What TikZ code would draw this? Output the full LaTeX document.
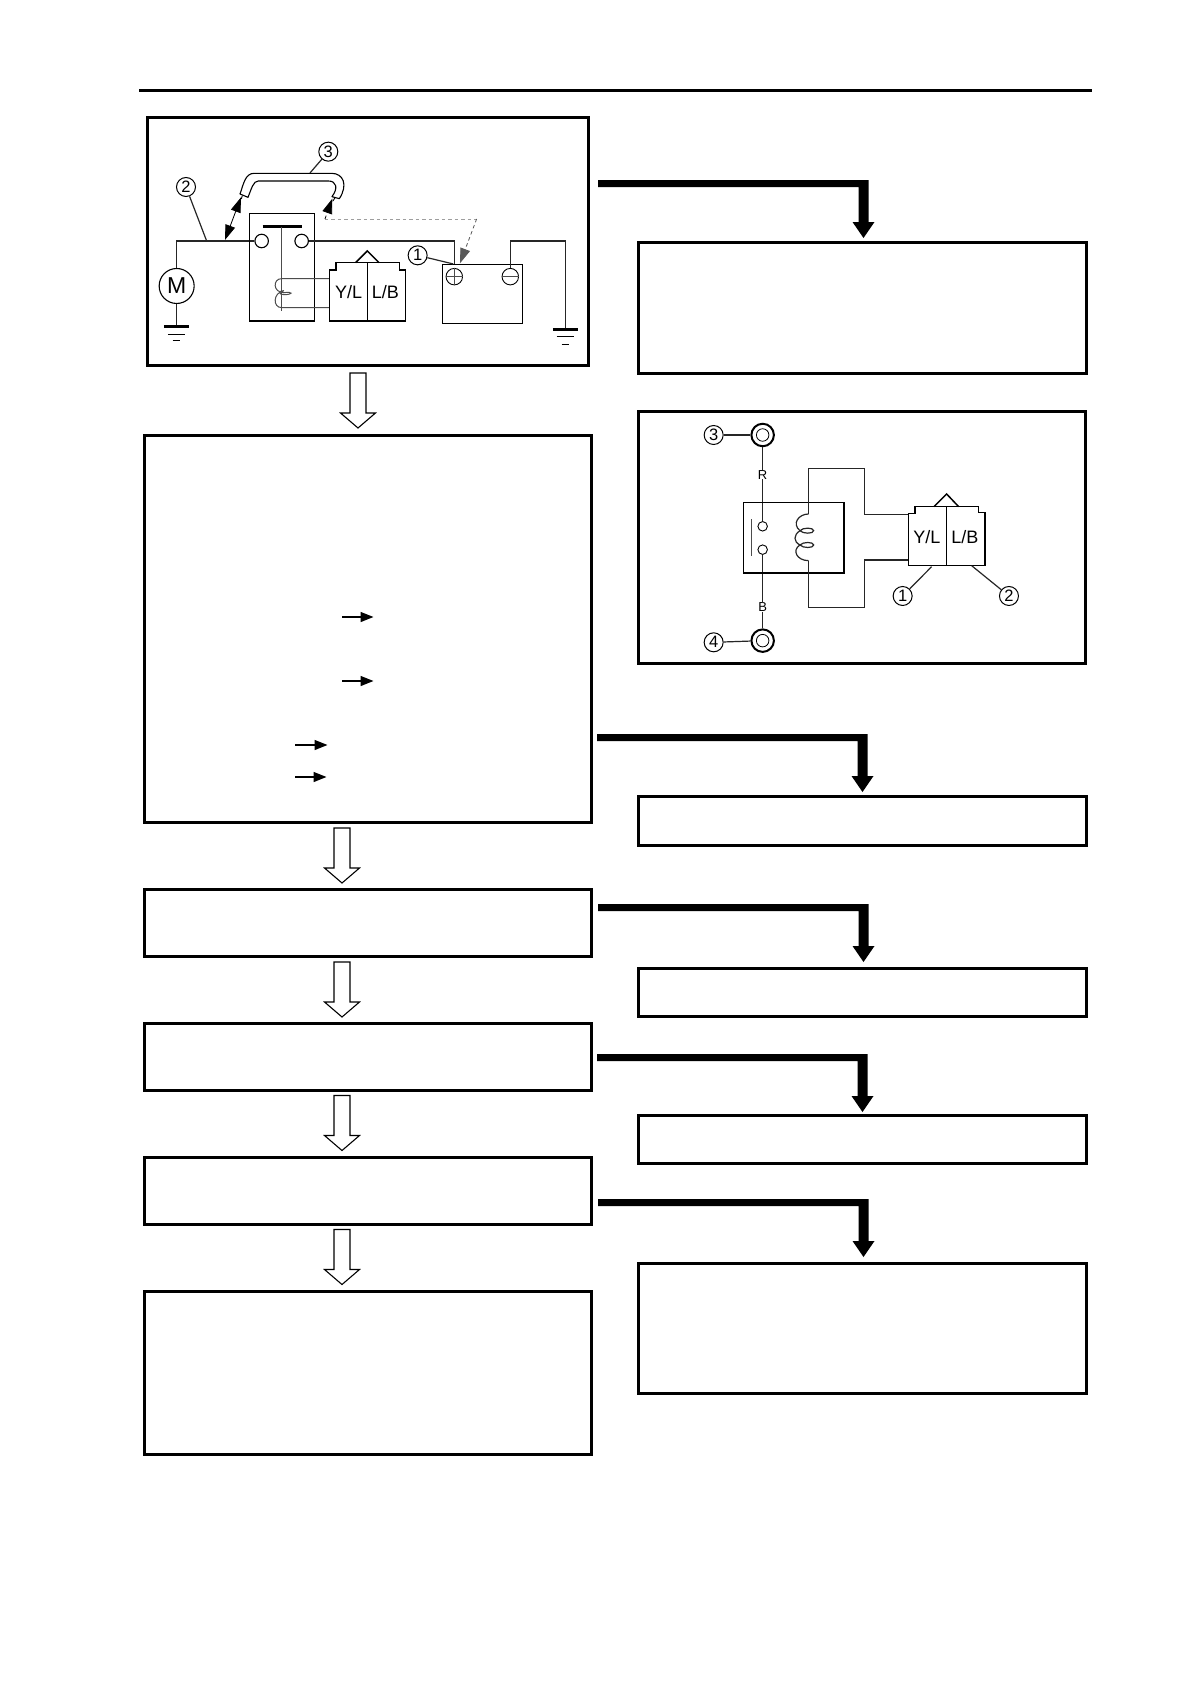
\documentclass[tikz,border=0pt]{standalone}
\usepackage{fontspec}
\setmainfont{Liberation Sans}
\usetikzlibrary{arrows.meta}
\tikzset{
  flowbox/.style={draw=black,line width=3pt,inner sep=0pt,outer sep=0pt,fill=white},
  hollowhead/.style={draw=black,line width=1.1pt,fill=white,line join=miter},
  elbowhead/.style={fill=black,draw=none},
  wire/.style={draw=black!85,line width=1.2pt},
  thinwire/.style={draw=black!70,line width=1pt},
  partline/.style={draw=black,line width=1.5pt},
  numcirc/.style={circle,draw=black,line width=1pt,minimum size=19pt,inner sep=0pt,font=\fontsize{16.5}{16.5}\selectfont},
  pintext/.style={inner sep=0pt,font=\fontsize{18}{18}\selectfont},
  wirelabel/.style={inner sep=0pt,font=\fontsize{13}{13}\selectfont},
  smallarrow/.style={draw=black,line width=1.4pt,-{Triangle[length=13pt,width=10pt]}},
  dashlead/.style={draw=black!38,line width=.8pt,dash pattern=on 3.5pt off 3pt},
  grounding/.style={draw=black,line width=.9pt}
}
\newcommand{\flowbox}[5]{\node[flowbox,minimum width={(#4-#2)*1pt},minimum height={(#5-#3)*1pt}] (#1) at ({(#2+#4)/2},{(#3+#5)/2}) {};}
\newcommand{\hollowdown}[3]{\coordinate (#1) at (#2,#3);
  \draw[hollowhead] (#1) ++(-8,0) -- ++(16,0) -- ++(0,40) -- ++(9.5,0) -- ++(-17.5,15) -- ++(-17.5,-15) -- ++(9.5,0) -- cycle;}
\newcommand{\elbowarrow}[3]{\coordinate (#1) at (#2,#3);
  \fill[elbowhead] (#1) -- ++(270.5,0) -- ++(0,42) -- ++(6,0) -- ++(-11,16) -- ++(-11,-16) -- ++(6,0) -- ++(0,-35) -- ++(-260.5,0) -- cycle;}
\begin{document}
\begin{tikzpicture}[x=1pt,y=-1pt]
\useasboundingbox (0,0) rectangle (1190,1684);
\fill[white] (0,0) rectangle (1190,1684);
% header rule
\coordinate (ruleL) at (139,90.5);
\coordinate (ruleR) at (1092,90.5);
\draw[line width=3pt] (ruleL) -- (ruleR);
% left column boxes
\flowbox{bA}{147.5}{117.5}{588}{365.5}
\flowbox{bB}{144.5}{435.5}{591.5}{822.5}
\flowbox{bC}{144.5}{889.5}{591.5}{956}
\flowbox{bD}{144.5}{1023}{591.5}{1090.5}
\flowbox{bE}{144.5}{1157}{591.5}{1224.5}
\flowbox{bF}{144.5}{1291.5}{591.5}{1454}
% right column boxes
\flowbox{rA}{638}{242.5}{1086.5}{373.5}
\flowbox{rB}{638.5}{411}{1085}{663}
\flowbox{rC}{638}{796.5}{1086.5}{845}
\flowbox{rD}{638}{968}{1086.5}{1016}
\flowbox{rE}{638}{1115.5}{1086.5}{1163}
\flowbox{rF}{638}{1263}{1086.5}{1393.5}
% hollow down arrows
\hollowdown{hA}{358}{373}
\hollowdown{hB}{342}{828}
\hollowdown{hC}{342}{962}
\hollowdown{hD}{342}{1095.5}
\hollowdown{hE}{342}{1229.5}
% black elbow arrows
\elbowarrow{eA}{598}{180}
\elbowarrow{eB}{597}{734}
\elbowarrow{eC}{598}{904}
\elbowarrow{eD}{597}{1054}
\elbowarrow{eE}{598}{1199}
% small arrows in the large box
\foreach \nm/\xa/\xb/\yy in {sA/342/373.5/617,sB/342/373.5/681,sC/295/327.5/745,sD/295/326.5/777}{
  \coordinate (\nm a) at (\xa,\yy);
  \coordinate (\nm b) at (\xb,\yy);
  \draw[smallarrow] (\nm a) -- (\nm b);
}
% ---------- circuit diagram in the first box
\begin{scope}[shift={(130,100)},x=.3333pt,y=-.3333pt]
  % motor
  \node[circle,draw=black,line width=1.1pt,minimum size=35pt,inner sep=0pt,font=\fontsize{23}{23}\selectfont] (motor) at (140,558) {M};
  \coordinate (mTop) at (140,423);
  \node[circle,draw=black,line width=1.1pt,minimum size=13.5pt,inner sep=0pt] (cL) at (395,423) {};
  \node[circle,draw=black,line width=1.1pt,minimum size=13.5pt,inner sep=0pt] (cR) at (515,423) {};
  \draw[wire] (motor) -- (mTop) -- (cL);
  % motor ground
  \coordinate (gA) at (140,680);
  \draw[wire] (motor) -- (gA);
  \draw[line width=3pt] (102,680) -- (176,680);
  \draw[grounding] (114,703) -- (166,703);
  \draw[grounding] (128,722) -- (151,722);
  % relay box
  \draw[partline] (358,340) rectangle (554,663);
  \draw[line width=3pt] (398,380) -- (515,380);
  \draw[thinwire] (455,380) -- (455,632);
  \draw[thinwire] (598,536) -- (455,536) .. controls (428,536) and (428,578) .. (462,578) .. controls (490,574) and (490,584) .. (462,584) .. controls (445,584) and (445,572) .. (462,572) .. controls (428,578) and (428,623) .. (455,623) -- (598,623);
  % connector
  \draw[partline,line join=miter] (598,663) -- (598,510) -- (618,510) -- (618,488) -- (808,488) -- (808,510) -- (827,510) -- (827,663) -- cycle;
  \draw[partline] (712,488) -- (712,663);
  \draw[partline] (677,488) -- (712,453) -- (747,488);
  \node[pintext] (yl) at (656,577) {Y/L};
  \node[pintext] (lb) at (766,577) {L/B};
  % battery
  \draw[partline] (937,493) rectangle (1177,671);
  \node[circle,draw=black,line width=.9pt,minimum size=16.5pt,inner sep=0pt] (bp) at (973,530) {};
  \node[circle,draw=black,line width=.9pt,minimum size=16.5pt,inner sep=0pt] (bm) at (1141,530) {};
  \draw[thinwire] (bp.west) -- (bp.east);
  \draw[thinwire] (bp.north) -- (bp.south);
  \draw[thinwire] (bm.west) -- (bm.east);
  \coordinate (cRe) at (973,423);
  \coordinate (bTop) at (973,493);
  \draw[wire] (cR) -- (cRe) -- (bTop);
  \coordinate (mTopA) at (1141,423);
  \coordinate (mTopB) at (1306,423);
  \coordinate (gB) at (1306,688);
  \draw[wire] (bm) -- (mTopA) -- (mTopB) -- (gB);
  \draw[line width=3pt] (1269,688) -- (1343,688);
  \draw[grounding] (1280,710) -- (1333,710);
  \draw[grounding] (1295,732) -- (1318,732);
  % labels
  \node[numcirc] (nA) at (863,466) {1};
  \node[numcirc] (nB) at (168,261) {2};
  \node[numcirc] (nC) at (595,155) {3};
  \coordinate (lA) at (970,492);
  \coordinate (lB) at (230,423);
  \coordinate (lC) at (540,219);
  \draw[wire] (nA) -- (lA);
  \draw[wire] (nB) -- (lB);
  \draw[wire] (nC) -- (lC);
  % jumper lead
  \draw[draw=black,line width=1.1pt,line join=round] (330,282) .. controls (340,255) and (345,220) .. (372,220) -- (605,220) .. controls (640,220) and (655,255) .. (628,296) -- (606,290) .. controls (625,265) and (620,243) .. (595,243) -- (385,243) .. controls (370,243) and (365,265) .. (354,292) -- cycle;
  \draw[draw=black,line width=.9pt] (337,287) -- (334,297);
  \draw[draw=black,line width=.9pt] (615,293) -- (609,303);
  % test-lead arrows
  \coordinate (jA) at (333,292);
  \coordinate (jB) at (285,420);
  \draw[draw=black,line width=.8pt,{Triangle[length=15pt,width=10pt]}-{Triangle[length=15pt,width=10pt]}] (jB) -- (jA);
  \coordinate (kA) at (607,296);
  \coordinate (kB) at (585,357);
  \coordinate (kC) at (1040,357);
  \coordinate (kD) at (990,490);
  \draw[dashlead] (kB) -- (kC);
  \draw[draw=black!65,line width=.8pt,dash pattern=on 3.5pt off 3pt,-{Triangle[length=15pt,width=10pt]}] (kC) -- (kD);
  \draw[draw=black,line width=.8pt,dash pattern=on 3.5pt off 3pt,-{Triangle[length=15pt,width=10pt]}] (kB) -- (kA);
\end{scope}
% ---------- relay diagram in the right box
\begin{scope}[shift={(620,400)},x=.3333pt,y=-.3333pt]
  \node[circle,draw=black,line width=2pt,minimum size=22.5pt,inner sep=0pt] (tT) at (428,105) {};
  \node[circle,draw=black,line width=2pt,minimum size=22.5pt,inner sep=0pt] (tB) at (428,722) {};
  \node[circle,draw=black,line width=.8pt,minimum size=12.5pt,inner sep=0pt] (tTi) at (428,105) {};
  \node[circle,draw=black,line width=.8pt,minimum size=12.5pt,inner sep=0pt] (tBi) at (428,722) {};
  \node[numcirc] (nThree) at (281,105) {3};
  \node[numcirc] (nFour) at (281,727) {4};
  \draw[wire] (nThree) -- (tT);
  \draw[wire] (nFour) -- (tB);
  \node[wirelabel] (lR) at (428,224) {R};
  \node[wirelabel] (lBk) at (428,622) {B};
  \node[circle,draw=black,line width=.9pt,minimum size=9.5pt,inner sep=0pt] (pU) at (428,379) {};
  \node[circle,draw=black,line width=.9pt,minimum size=9.5pt,inner sep=0pt] (pD) at (428,449) {};
  \draw[wire] (tT) -- (lR);
  \draw[wire] (lR) -- (pU);
  \draw[wire] (pD) -- (lBk);
  \draw[wire] (lBk) -- (tB);
  \draw[partline] (371,308) rectangle (672,519);
  \draw[draw=black!70,line width=1.3pt] (395,358) -- (395,468);
  % coil wires
  \draw[wire] (566,342) -- (566,205) -- (733,205) -- (733,344) -- (865,344);
  \draw[wire] (566,482) -- (566,622) -- (733,622) -- (733,480) -- (865,480);
  % coil turns
  \draw[wire] (566,342) .. controls (535,342) and (515,372) .. (540,392) .. controls (548,382) and (581,382) .. (581,392) .. controls (581,402) and (548,402) .. (540,392);
  \draw[wire] (540,392) .. controls (520,405) and (520,425) .. (540,435) .. controls (548,425) and (581,425) .. (581,435) .. controls (581,445) and (548,445) .. (540,435);
  \draw[wire] (540,435) .. controls (515,450) and (530,482) .. (566,482);
  % connector
  \draw[partline,line join=miter] (865,497) -- (865,340) -- (885,340) -- (885,320) -- (1075,320) -- (1075,338) -- (1095,338) -- (1095,497) -- cycle;
  \draw[partline] (980,320) -- (980,497);
  \draw[partline] (942,320) -- (980,282) -- (1016,320);
  \node[pintext] (ylB) at (921,412) {Y/L};
  \node[pintext] (lbB) at (1035,412) {L/B};
  \node[numcirc] (nOne) at (848,588) {1};
  \node[numcirc] (nTwo) at (1167,588) {2};
  \coordinate (lOne) at (935,500);
  \coordinate (lTwo) at (1055,497);
  \draw[wire] (nOne) -- (lOne);
  \draw[wire] (nTwo) -- (lTwo);
\end{scope}
\end{tikzpicture}
\end{document}
